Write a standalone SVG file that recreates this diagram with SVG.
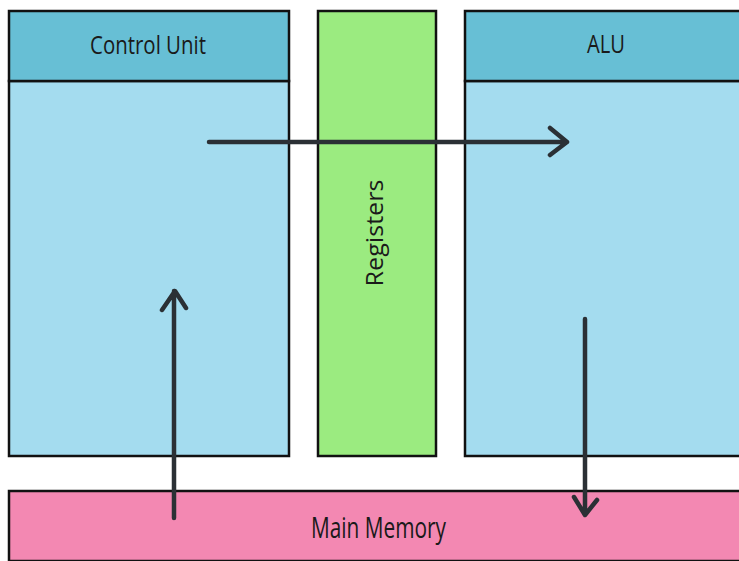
<svg xmlns="http://www.w3.org/2000/svg" width="739" height="561" viewBox="0 0 739 561">
<defs>
<style>
.hdr{fill:#67bfd5;stroke:#111;stroke-width:2.5}
.body{fill:#a4dcef;stroke:#111;stroke-width:2.5}
.reg{fill:#9beb80;stroke:#111;stroke-width:2.5}
.mem{fill:#f388b2;stroke:#111;stroke-width:2.5}
.lbl{font-family:"Open Sans","Liberation Sans",sans-serif;font-size:26px;fill:#1a1a1a;text-anchor:middle}
.arr{fill:none;stroke:#2b3035;stroke-width:4.5;stroke-linecap:round;stroke-linejoin:round}
</style>
</defs>
<rect width="739" height="561" fill="#fff"/>
<g id="control-unit">
<rect class="body" x="9" y="81" width="280" height="375"/>
<rect class="hdr" x="9" y="11" width="280" height="70"/>
<text class="lbl" x="148" y="54" textLength="116" lengthAdjust="spacingAndGlyphs">Control Unit</text>
</g>
<g id="registers">
<rect class="reg" x="318" y="11" width="118" height="445"/>
<text class="lbl" transform="translate(383,233) rotate(-90)" style="font-size:24px" textLength="107" lengthAdjust="spacingAndGlyphs">Registers</text>
</g>
<g id="alu">
<rect class="body" x="465" y="81" width="290" height="375"/>
<rect class="hdr" x="465" y="11" width="290" height="70"/>
<text class="lbl" x="606" y="53" textLength="38" lengthAdjust="spacingAndGlyphs">ALU</text>
</g>
<g id="main-memory">
<rect class="mem" x="9" y="491" width="746" height="70"/>
<text class="lbl" x="378.5" y="538" style="font-size:29px" textLength="135" lengthAdjust="spacingAndGlyphs">Main Memory</text>
</g>
<g id="connectors">
<path class="arr" d="M209 142 H567 M550 128 L567 142 L550 155"/>
<path class="arr" d="M174 518 V291 M162 310 L175 291 L186 308"/>
<path class="arr" d="M585 319 V515 M574 497 L585 515 L597 500"/>
</g>
</svg>
